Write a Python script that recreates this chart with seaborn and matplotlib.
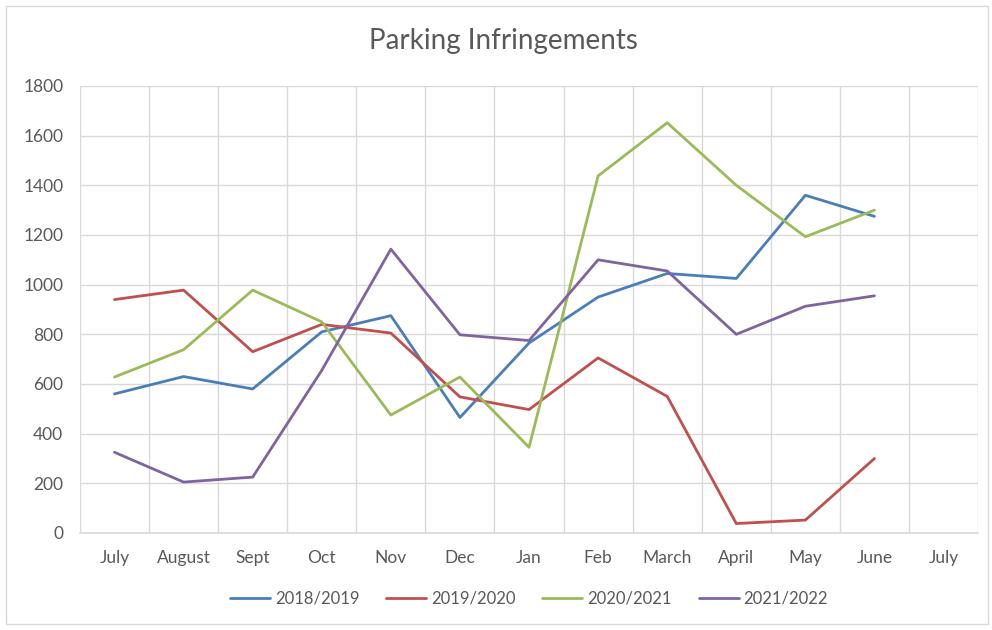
import pandas as pd
import numpy as np
import matplotlib
matplotlib.use('Agg')
import matplotlib.pyplot as plt
import seaborn as sns

# month labels along the category axis (last July has no data)
months = ['July', 'August', 'Sept', 'Oct', 'Nov', 'Dec', 'Jan',
          'Feb', 'March', 'April', 'May', 'June', 'July']

# values, July..June
fy_2018_19 = [560, 630, 580, 810, 875, 465, 765, 950, 1045, 1025, 1360, 1275]
fy_2019_20 = [940, 978, 730, 840, 805, 548, 497, 705, 550, 38, 52, 300]
fy_2020_21 = [628, 738, 978, 850, 475, 628, 345, 1438, 1652, 1400, 1193, 1300]
fy_2021_22 = [325, 205, 225, 655, 1143, 798, 775, 1100, 1055, 800, 913, 955]

series = {'2018/2019': fy_2018_19, '2019/2020': fy_2019_20,
          '2020/2021': fy_2020_21, '2021/2022': fy_2021_22}
colors = ['#4A7EBB', '#C0504D', '#9BBB59', '#8064A2']

# long form table for seaborn
rows = []
for name, vals in series.items():
    for i, v in enumerate(vals):
        rows.append({'pos': i, 'value': v, 'year': name})
df = pd.DataFrame(rows)

sns.set_theme(style='white')
plt.rcParams['font.family'] = ['Lato', 'DejaVu Sans']
text_col = '#595959'
grid_col = '#D9D9D9'

fig = plt.figure(figsize=(9.92, 6.3), dpi=100)
ax = fig.add_axes([0.0806, 0.154, 0.9054, 0.7095])

sns.lineplot(data=df, x='pos', y='value', hue='year', palette=colors,
             linewidth=2.0, ax=ax, legend=True)

ax.set_xlim(-0.5, len(months) - 0.5)
ax.set_ylim(0, 1800)
ax.set_yticks(range(0, 1801, 200))
ax.set_xticks(range(len(months)))
ax.set_xticklabels(months)
ax.set_xticks(np.arange(-0.5, len(months), 1), minor=True)

ax.grid(False)
ax.yaxis.grid(True, color=grid_col, linewidth=1)
ax.xaxis.grid(True, which='minor', color=grid_col, linewidth=1)
ax.set_axisbelow(True)
for s in ['top', 'right', 'left']:
    ax.spines[s].set_visible(False)
ax.spines['bottom'].set_color(grid_col)
ax.tick_params(axis='both', which='both', length=0, colors=text_col, labelsize=12.5)
ax.tick_params(axis='x', pad=12)
ax.tick_params(axis='y', pad=12)
ax.set_xlabel('')
ax.set_ylabel('')

fig.text(0.508, 0.935, 'Parking Infringements', ha='center', va='center',
         fontsize=20, color=text_col)

leg = ax.legend(loc='upper center', bbox_to_anchor=(0.5, -0.095), ncol=4,
                frameon=False, fontsize=12, handlelength=2.4, columnspacing=1.6,
                handletextpad=0.3)
for t in leg.get_texts():
    t.set_color(text_col)

# light border around the whole chart
fig.patches.append(plt.Rectangle((0.006, 0.01), 0.99, 0.98, transform=fig.transFigure,
                                 fill=False, edgecolor='#D9D9D9', linewidth=1))

fig.savefig('out.png', dpi=100)
